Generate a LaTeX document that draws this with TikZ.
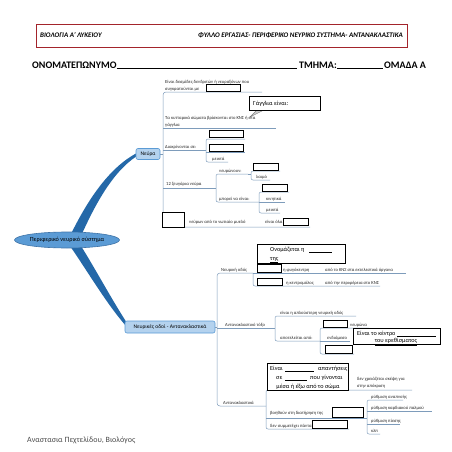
\documentclass[tikz,border=0pt]{standalone}
\usepackage{fontspec}
\setmainfont{Carlito}
\usetikzlibrary{shapes.geometric}
\definecolor{hdrred}{HTML}{A3242B}
\definecolor{lnblue}{HTML}{7E9CBB}
\definecolor{brblue}{HTML}{2468A8}
\definecolor{elfill}{HTML}{5B9BD5}
\definecolor{elbord}{HTML}{3F74A8}
\definecolor{ndfill}{HTML}{B4D2EE}
\definecolor{ndbord}{HTML}{5B9BD5}
\begin{document}
\begin{tikzpicture}[x=1pt,y=-1pt,
  tx/.style={font=\fontsize{4.6}{5.4}\selectfont, inner sep=0pt, anchor=base west, text=black!85},
  ct/.style={font=\fontsize{6.2}{7}\selectfont, inner sep=0pt, anchor=base west},
  blank/.style={draw=black, line width=1pt, fill=white, inner sep=0pt, anchor=north west},
  callbox/.style={draw=black, line width=1.2pt, fill=white, inner sep=0pt, anchor=north west},
  ln/.style={draw=lnblue, line width=0.5pt},
  hd/.style={font=\fontsize{7}{8}\selectfont\bfseries\itshape, inner sep=0pt},
  nm/.style={font=\fontsize{10}{12}\selectfont\bfseries, inner sep=0pt, anchor=base west},
  topic/.style={rounded corners=2pt, draw=ndbord, fill=ndfill, line width=0.6pt, inner sep=1pt, font=\fontsize{5.5}{6}\selectfont}]
\useasboundingbox (0,0) rectangle (452,452);
\fill[white] (0,0) rectangle (452,452);

% header
\node[draw=hdrred, line width=1.4pt, minimum width=371pt, minimum height=23pt, anchor=north west, inner sep=0pt] (hdr) at (36,24) {};
\node[hd, anchor=west] (h1) at (40,35) {ΒΙΟΛΟΓΙΑ Α' ΛΥΚΕΙΟΥ};
\node[hd, anchor=east] (h2) at (403,35) {ΦΥΛΛΟ ΕΡΓΑΣΙΑΣ- ΠΕΡΙΦΕΡΙΚΟ ΝΕΥΡΙΚΟ ΣΥΣΤΗΜΑ- ΑΝΤΑΝΑΚΛΑΣΤΙΚΑ};

\node[nm] (onoma) at (32,68) {ΟΝΟΜΑΤΕΠΩΝΥΜΟ};
\coordinate (u1) at (297,68);
\draw[line width=0.7pt] (onoma.base east) -- (u1);
\node[nm] (tmima) at (299,68) {ΤΜΗΜΑ:};
\coordinate (u2) at (383,68);
\draw[line width=0.7pt] (tmima.base east) -- (u2);
\node[nm] (omada) at (384,68) {ΟΜΑΔΑ Α};

% thick branches
\fill[brblue] (70,236) .. controls (86,203) and (108,168) .. (137,153) -- (137,156) .. controls (112,172) and (94,207) .. (81,236) -- cycle;
\fill[brblue] (70,246) .. controls (88,272) and (106,303) .. (126,326) -- (127,323) .. controls (112,300) and (96,270) .. (81,246) -- cycle;

\node[ellipse, draw=elbord, fill=elfill, line width=0.6pt, minimum width=95pt, minimum height=16pt, inner sep=0pt, font=\fontsize{6.2}{7}\selectfont] (pns) at (67,240) {Περιφερικό νευρικό σύστημα};

% ================= Νεύρα
\node[topic, minimum width=24pt, minimum height=11pt] (nevra) at (148,154) {Νεύρα};
\coordinate (sp1) at (163,154);
\draw[ln] (nevra.east) -- (sp1);
\draw[ln, rounded corners=3pt] (262,92) -- (163,92) -- (163,227) -- (310,227);

\node[tx] (a1) at (165,83) {Είναι δεσμίδες δενδριτών ή νευραξόνων που};
\node[tx] (a2) at (165,90) {συγκρατούνται με};
\node[blank, minimum width=34pt, minimum height=7pt] (b1) at (206,84) {};

\draw[draw=gray, fill=gray!40] (258,109) -- (266,109) -- (250,117) -- cycle;
\node[draw=black, line width=0.8pt, fill=white, minimum width=71pt, minimum height=14pt, anchor=north west, inner sep=0pt] (gg) at (249,96) {};
\node[ct, anchor=west] (ggt) at (253,103.5) {Γάγγλια είναι:};

\node[tx] (c1) at (165,119) {Τα κυτταρικά σώματα βρίσκονται στο ΚΝΣ ή στα};
\node[tx] (c2) at (165,126) {γάγγλια};
\draw[ln] (163,128) -- (276,128);

\node[tx] (d1) at (165,148) {Διακρίνονται σε:};
\draw[ln] (163,150) -- (206,150);
\draw[ln, rounded corners=2pt] (245,139) -- (206,139) -- (206,162) -- (228,162);
\draw[ln] (206,152) -- (245,152);
\node[blank, minimum width=34pt, minimum height=7pt] (b2) at (209,130) {};
\node[blank, minimum width=34pt, minimum height=7pt] (b3) at (209,144) {};
\node[tx] (d4) at (212,160) {μεικτά};

\node[tx] (e1) at (166,185) {12 ζευγάρια νεύρα};
\draw[ln] (163,188) -- (216,188);
\draw[ln, rounded corners=2pt] (248,174) -- (216,174) -- (216,202) -- (259,202);
\node[tx] (e2) at (219,172) {νευρώνουν:};
\draw[ln] (248,174) -- (251,174);
\draw[ln, rounded corners=2pt] (280,171) -- (251,171) -- (251,180) -- (270,180);
\node[blank, minimum width=25pt, minimum height=7pt] (b4) at (253,163) {};
\node[tx] (e3) at (256,178) {λαιμό};
\node[tx] (e4) at (219,200) {μπορεί να είναι:};
\draw[ln, rounded corners=2pt] (289,192) -- (259,192) -- (259,213) -- (280,213);
\draw[ln] (259,202) -- (285,202);
\node[blank, minimum width=25pt, minimum height=7pt] (b5) at (262,184) {};
\node[tx] (e5) at (266,200) {κινητικά};
\node[tx] (e6) at (266,211) {μεικτά};

\node[blank, minimum width=22pt, minimum height=15pt] (b6) at (162,212) {};
\node[tx] (f1) at (189,223) {νεύρων από το νωτιαίο μυελό};
\node[tx] (f2) at (265,223) {είναι όλα};
\node[blank, minimum width=25pt, minimum height=7pt] (b7) at (283,218) {};

% ================= Νευρικές οδοί
\node[topic, minimum width=90pt, minimum height=12pt] (nod) at (170,327) {Νευρικές οδοί - Αντανακλαστικά};
\coordinate (sp2) at (217,327);
\draw[ln] (nod.east) -- (sp2);
\draw[ln, rounded corners=3pt] (253,273) -- (217,273) -- (217,406) -- (266,406);
\draw[ln] (217,328) -- (275,328);

\node[tx] (g1) at (221,271) {Νευρική οδός};
\draw[ln] (253,273) -- (406,273);
\draw[ln, rounded corners=2pt] (253,273) -- (253,286) -- (380,286);
\node[blank, minimum width=24pt, minimum height=8pt] (b8) at (257,264) {};
\node[tx] (g2) at (283,271) {η φυγόκεντρη};
\node[tx] (g3) at (325,271) {από το ΚΝΣ στα εκτελεστικά όργανα};
\node[blank, minimum width=25pt, minimum height=7pt] (b9) at (257,278) {};
\node[tx] (g4) at (286,284) {η κεντρομόλος};
\node[tx] (g5) at (325,284) {από την περιφέρεια στο ΚΝΣ};
\node[callbox, minimum width=88pt, minimum height=19pt] (cl1) at (257,244) {};
\node[ct] (cl1a) at (270,251) {Ονομάζεται η};
\draw[line width=0.5pt] (309,252) -- (332,252);
\node[ct] (cl1b) at (270,260) {\underline{της}};

\node[tx] (h0) at (225,326) {Αντανακλαστικό τόξο};
\draw[ln, rounded corners=2pt] (356,316) -- (275,316) -- (275,341) -- (320,341);
\node[tx] (h2b) at (280,314) {είναι η απλούστερη νευρική οδός};
\node[tx] (h3) at (280,339) {αποτελείται από:};
\draw[ln, rounded corners=2pt] (369,328) -- (320,328) -- (320,354) -- (354,354);
\draw[ln] (320,341) -- (350,341);
\node[blank, minimum width=24pt, minimum height=7pt] (b10) at (323,320) {};
\node[tx] (h4) at (350,326) {νευρώνα};
\node[tx] (h5) at (327,339) {ενδιάμεσο};
\node[blank, minimum width=27pt, minimum height=8pt] (b11) at (325,345) {};
\node[callbox, minimum width=87pt, minimum height=16pt] (cl2) at (353,328) {};
\node[ct] (cl2a) at (357,335) {Είναι το κέντρο};
\draw[line width=0.5pt] (397,336) -- (436,336);
\node[ct, anchor=base] (cl2b) at (396,342.5) {\underline{του ερεθίσματος}};

\node[tx] (k1) at (223,404) {Αντανακλαστικά};
\draw[ln, rounded corners=2pt] (412,390) -- (266,390) -- (266,429) -- (349,429);
\draw[ln] (266,418) -- (367,418);
\node[callbox, minimum width=81pt, minimum height=27pt] (cl3) at (267,363) {};
\node[ct] (cl3a) at (270,370) {Είναι};
\draw[line width=0.5pt] (285,371) -- (314,371);
\node[ct] (cl3b) at (318,370) {απαντήσεις};
\node[ct] (cl3c) at (276,379) {σε};
\draw[line width=0.5pt] (285,380) -- (307,380);
\node[ct] (cl3d) at (310,379) {που γίνονται};
\node[ct, anchor=base] (cl3e) at (308,388) {\underline{μέσα ή έξω από το σώμα}};
\node[tx] (k2) at (357,380) {δεν χρειάζεται σκέψη για};
\node[tx] (k3) at (357,387) {στην απόκριση};
\node[tx] (k4) at (270,414) {βοηθούν στη διατήρηση της};
\node[blank, minimum width=31pt, minimum height=10pt] (b12) at (332,407) {};
\draw[ln, rounded corners=2pt] (403,400) -- (367,400) -- (367,434) -- (380,434);
\draw[ln] (367,411) -- (432,411);
\draw[ln] (367,424) -- (400,424);
\node[tx] (k5) at (371,398) {ρύθμιση αναπνοής};
\node[tx] (k6) at (371,409) {ρύθμιση καρδιακού παλμού};
\node[tx] (k7) at (371,422) {ρύθμιση πίεσης};
\node[tx] (k8) at (371,432) {κλπ};
\node[tx] (k9) at (270,427) {δεν συμμετέχει πάντα ο};
\node[blank, minimum width=35pt, minimum height=8pt] (b13) at (312,420) {};

\node[font=\fontsize{8}{9}\selectfont, text=black!70, inner sep=0pt, anchor=base west] (auth) at (27,442) {Αναστασια Πεχτελίδου, Βιολόγος};
\end{tikzpicture}
\end{document}
